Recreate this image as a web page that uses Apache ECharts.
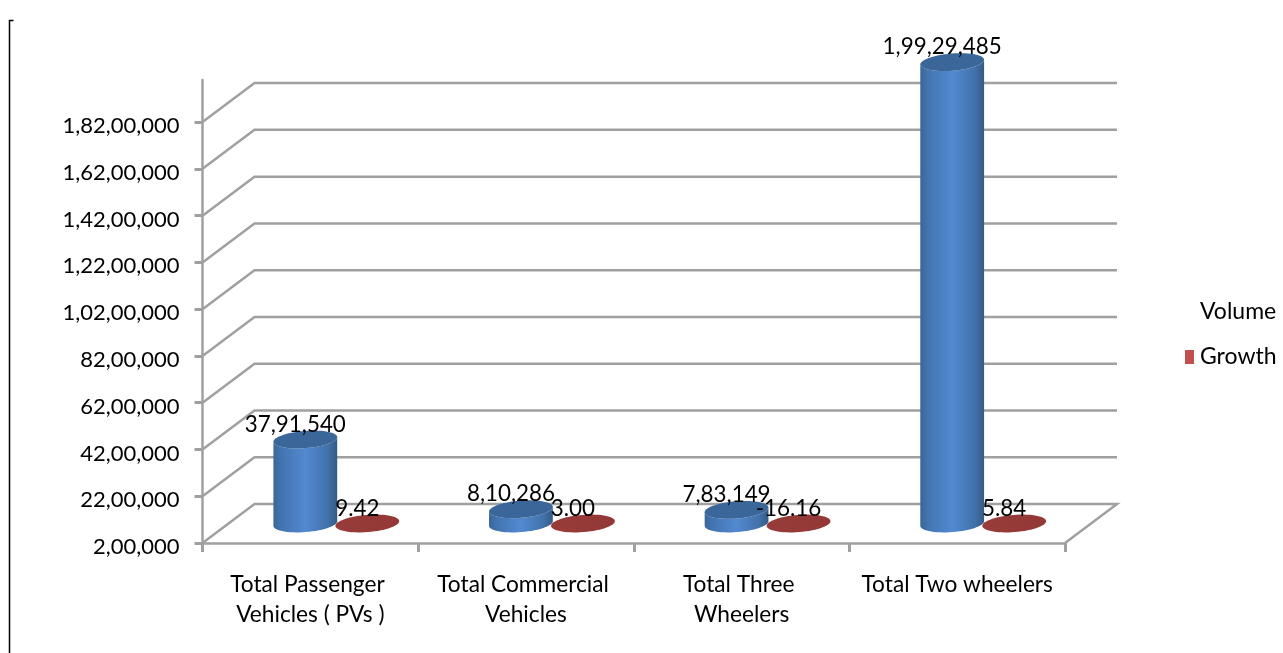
<!DOCTYPE html>
<html>
<head>
<meta charset="utf-8">
<style>html,body{margin:0;padding:0;background:#fff}#c{width:1283px;height:653px}</style>
<script src="https://cdn.jsdelivr.net/npm/echarts@6/dist/echarts.min.js"></script>
</head>
<body>
<div id="c"></div>
<script>
const categories = ['Total Passenger Vehicles ( PVs )', 'Total Commercial Vehicles', 'Total Three Wheelers', 'Total Two wheelers'];
const volume = [3791540, 810286, 783149, 19929485];
const growth = ['9.42', '3.00', '-16.16', '5.84'];
const yTicks = [200000, 2200000, 4200000, 6200000, 8200000, 10200000, 12200000, 14200000, 16200000, 18200000];
const yMin = 200000, yMax = 20000000;

const fmt = v => new Intl.NumberFormat('en-IN').format(v);
const FONT = 'Lato';
const DX = 52, DY = -39;          // depth of the 3D box
const RX = 32, RY = 8.6, TILT = -4.5 * Math.PI / 180;
const GRID = '#a0a0a0';

function arc(cx, cy, from, to, n) {
  const pts = [];
  for (let i = 0; i <= n; i++) {
    const t = from + (to - from) * i / n;
    const a = RX * Math.cos(t), b = RY * Math.sin(t);
    pts.push([cx + a * Math.cos(TILT) - b * Math.sin(TILT), cy + a * Math.sin(TILT) + b * Math.cos(TILT)]);
  }
  return pts;
}
function ellipse(cx, cy, style, z) {
  return { type: 'polygon', z2: z, shape: { points: arc(cx, cy, 0, Math.PI * 2, 60) }, style };
}
function label(x, y, text) {
  return { type: 'text', z2: 50, style: { x, y, text, font: '22.4px ' + FONT, fill: '#000', align: 'center', verticalAlign: 'middle' } };
}
const bodyFill = new echarts.graphic.LinearGradient(0, 0, 1, 0, [
  { offset: 0, color: '#3a6699' }, { offset: 0.12, color: '#4274b0' },
  { offset: 0.5, color: '#5289d0' }, { offset: 0.85, color: '#4272ab' }, { offset: 1, color: '#345b85' }
]);
const redFill = new echarts.graphic.LinearGradient(0, 0, 1, 0, [
  { offset: 0, color: '#983c3a' }, { offset: 1, color: '#933836' }
]);

const option = {
  animation: false,
  textStyle: { fontFamily: FONT },
  grid: { left: 202.5, right: 218, top: 80, bottom: 110 },
  xAxis: {
    type: 'category', data: categories,
    axisLine: { lineStyle: { color: GRID, width: 2.5 } },
    axisTick: { show: true, length: 9, lineStyle: { color: GRID, width: 3 } },
    axisLabel: { color: '#000', fontSize: 22.7, fontFamily: FONT, lineHeight: 30, margin: 27, width: 198, overflow: 'break', interval: 0 }
  },
  yAxis: {
    type: 'value', min: yMin, max: yMax,
    splitLine: { show: false },
    axisLine: { show: true, lineStyle: { color: GRID, width: 2.5 } },
    axisTick: { show: true, length: 8, customValues: yTicks, lineStyle: { color: GRID, width: 3 } },
    axisLabel: { color: '#000', fontSize: 22, fontFamily: FONT, margin: 23, verticalAlign: 'top', lineHeight: 8, customValues: yTicks, formatter: v => fmt(v) }
  },
  legend: {
    orient: 'vertical', left: 1180, top: 295, itemWidth: 9, itemHeight: 14, itemGap: 22.5, itemStyle: { borderWidth: 0 },
    textStyle: { color: '#000', fontSize: 23, fontFamily: FONT, padding: [0, 0, 0, 1] },
    selectedMode: false,
    data: [
      { name: 'Volume', icon: 'rect', itemStyle: { color: 'rgba(0,0,0,0)' } },
      { name: 'Growth', icon: 'rect', itemStyle: { color: '#c0504d' } }
    ]
  },
  graphic: [
    { type: 'polyline', shape: { points: [[13.5, 20.5], [9.5, 20.5], [9.5, 653]] }, style: { stroke: '#000', lineWidth: 1.5, fill: null } }
  ],
  series: [
    {
      type: 'custom', name: 'walls', silent: true, z: 1,
      data: yTicks,
      encode: { y: 0 },
      renderItem(params, api) {
        const cs = params.coordSys;
        const y = api.coord([0, api.value(0)])[1];
        const x0 = cs.x, x1 = cs.x + cs.width;
        const pts = api.value(0) === yMin
          ? [[x0, y], [x0 + DX, y + DY], [x1 + DX, y + DY], [x1, y]]
          : [[x0, y], [x0 + DX, y + DY], [x1 + DX, y + DY]];
        return { type: 'polyline', shape: { points: pts }, style: { stroke: GRID, lineWidth: 2.5, fill: null } };
      }
    },
    {
      type: 'custom', name: 'Volume', z: 3,
      data: volume.map((v, i) => [i, v]),
      encode: { x: 0, y: 1 },
      renderItem(params, api) {
        const i = api.value(0), v = api.value(1);
        const top = api.coord([i, v]), base = api.coord([i, yMin]);
        const cx = top[0] + DX / 2 - 31, yT = top[1] + DY / 2, yB = base[1] + DY / 2;
        return { type: 'group', children: [
          { type: 'polygon', z2: 1, shape: { points: arc(cx, yB, 0, Math.PI, 30).concat(arc(cx, yT, Math.PI, 0, 30)) }, style: { fill: bodyFill } },
          ellipse(cx, yT, { fill: '#3a6699' }, 2),
          label(cx - 10, yT - 15, fmt(v))
        ] };
      }
    },
    {
      type: 'custom', name: 'Growth', z: 4,
      data: growth.map((g, i) => [i, parseFloat(g)]),
      encode: { x: 0, y: 1 },
      renderItem(params, api) {
        const i = api.value(0);
        const c = api.coord([i, Math.max(api.value(1), yMin)]);
        const cx = c[0] + DX / 2 + 31, cy = c[1] + DY / 2;
        return { type: 'group', children: [
          ellipse(cx, cy, { fill: redFill }, 1),
          label(cx - 10, cy - 15, growth[i])
        ] };
      }
    }
  ]
};
echarts.init(document.getElementById('c'), null, { renderer: 'canvas' }).setOption(option);
</script>
</body>
</html>
